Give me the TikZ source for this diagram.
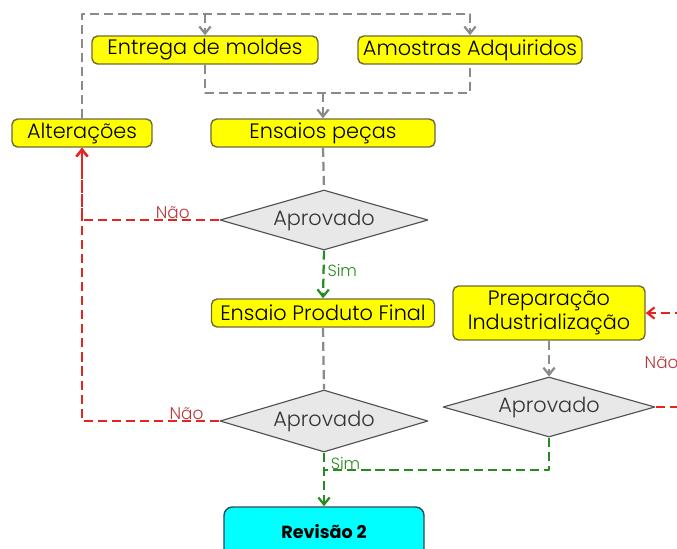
\documentclass[tikz,border=0pt]{standalone}
\usepackage{fontspec}
\setmainfont{Poppins}[UprightFont=* Light, BoldFont=* Bold]
\usetikzlibrary{arrows.meta,shapes.geometric,positioning}
\definecolor{boxyellow}{HTML}{FFFF00}
\definecolor{boxedge}{HTML}{6E6A3A}
\definecolor{flowgray}{HTML}{8A8A8A}
\definecolor{nored}{HTML}{E3241F}
\definecolor{notext}{HTML}{B8373A}
\definecolor{simgreen}{HTML}{2A8A22}
\definecolor{decfill}{HTML}{E8E8E8}
\definecolor{decedge}{HTML}{505050}
\definecolor{revcyan}{HTML}{00FFFF}
\definecolor{revedge}{HTML}{2E4A5E}
\tikzset{
  every picture/.style={line join=round, >={Straight Barb[length=5pt,width=8pt]}},
  tarefa/.style={draw=boxedge, fill=boxyellow, line width=1pt, rounded corners=4pt,
    minimum height=0.7cm, inner sep=2pt, font=\fontsize{14.8}{16}\selectfont},
  decisao/.style={diamond, draw=decedge, fill=decfill, line width=0.8pt, aspect=3.4,
    inner sep=0pt, font=\fontsize{14.8}{16}\selectfont, text=black!80},
  revisao/.style={draw=revedge, fill=revcyan, line width=1pt, rounded corners=6pt,
    font=\fontsize{12.5}{14}\selectfont\bfseries},
  grayflow/.style={draw=flowgray, line width=1.6pt, dash pattern=on 6.5pt off 3.5pt},
  noflow/.style={draw=nored, line width=1.6pt, dash pattern=on 6.5pt off 3.5pt},
  simflow/.style={draw=simgreen, line width=1.6pt, dash pattern=on 6.5pt off 3.5pt},
  notag/.style={text=notext, font=\fontsize{12}{14}\selectfont, inner sep=1pt},
  simtag/.style={text=simgreen, font=\fontsize{11.5}{13}\selectfont, inner sep=1pt},
}

\begin{document}
\begin{tikzpicture}[x=0.025cm,y=-0.025cm]
\useasboundingbox (0,0) rectangle (677,548);
\clip (0,0) rectangle (677,548);

% caixas
\node[tarefa, minimum width=5.65cm] (entrega) at (205,50) {Entrega de moldes};
\node[tarefa, minimum width=5.6cm] (amostras) at (470,50) {Amostras Adquiridos};
\node[tarefa, minimum width=3.5cm] (alter) at (82,133) {Alterações};
\node[tarefa, minimum width=5.6cm] (ensaios) at (323,133) {Ensaios peças};
\node[tarefa, minimum width=5.575cm] (produto) at (323,313) {Ensaio Produto Final};
\node[tarefa, minimum width=4.8cm, minimum height=1.35cm, align=center] (prep) at (549,313)
  {Preparação\\[1pt]Industrialização};
\node[revisao, minimum width=5cm, minimum height=1.25cm] (rev) at (324,532) {Revisão 2};

% decisoes
\node[decisao, minimum width=5.2cm, minimum height=1.5cm] (aprov1) at (324,220) {Aprovado};
\node[decisao, minimum width=5.3cm, minimum height=1.5cm] (aprov2) at (549,407) {Aprovado};
\node[decisao, minimum width=5.2cm, minimum height=1.55cm] (aprov3) at (324,421) {Aprovado};

\coordinate (topbar) at (0,14);
\coordinate (joinbar) at (0,93);
\coordinate (simjoin) at (324,470);
\coordinate (loopR) at (700,0);

% ligacoes cinzentas
\draw[grayflow,->] (alter.north) |- (amostras.north |- topbar) -- (amostras.north);
\draw[grayflow,->] (entrega.north |- topbar) -- (entrega.north);
\draw[grayflow] (entrega.south) |- (amostras.south |- joinbar) -- (amostras.south);
\draw[grayflow,->] (ensaios.north |- joinbar) -- (ensaios.north);
\draw[grayflow] (ensaios.south) -- (aprov1.north);
\draw[grayflow] (produto.south) -- (aprov3.north);
\draw[grayflow,->] (prep.south) -- (aprov2.north);

% nao
\draw[noflow,->] (aprov1.west) -| (alter.south)
  node[notag, pos=0.17, above=-1pt] {Não};
\draw[noflow,->] (aprov3.west) -| (alter.south)
  node[notag, pos=0.12, above=-1pt] {Não};
\draw[noflow,->] (aprov2.east) -- (aprov2.east -| loopR) |- (prep.east);
\node[notag, anchor=west] (naoR) at (643,363) {Não};

% sim
\draw[simflow,->] (aprov1.south) -- (produto.north)
  node[simtag, pos=0.42, right=1pt] {Sim};
\draw[simflow,->] (aprov3.south) -- (rev.north)
  node[simtag, pos=0.2, right=3pt] {Sim};
\draw[simflow] (aprov2.south) |- (simjoin);
\end{tikzpicture}
\end{document}
